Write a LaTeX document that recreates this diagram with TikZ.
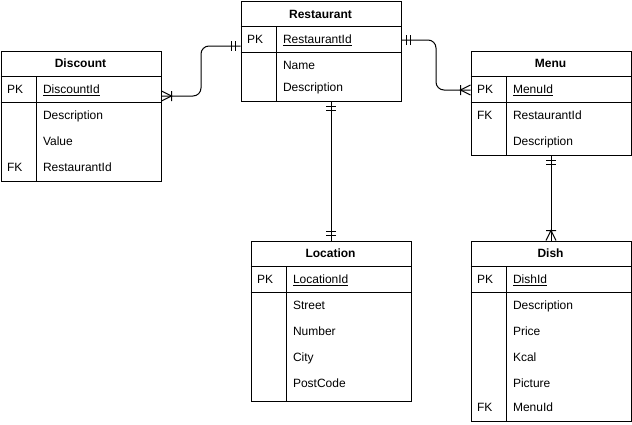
\documentclass[tikz,border=0pt]{standalone}
\usepackage{fontspec}
\setmainfont{Liberation Sans}
\usetikzlibrary{calc}

\tikzset{
  entity/.style = {draw, rectangle, anchor=north west, inner sep=0pt,
    minimum width=160pt},
  title/.style = {font=\fontsize{12}{14}\selectfont\bfseries, inner sep=0pt},
  field/.style = {font=\fontsize{12}{14}\selectfont, anchor=west, inner sep=0pt,
    text height=8.6pt, text depth=0pt},
  one/.pic = {\draw (-5,-5) -- (-5,5) (-9,-5) -- (-9,5);},
  many/.pic = {\draw (-10,-5) -- (-10,5) (0,-5) -- (-10,0) -- (0,5);}
}

\begin{document}
\begin{tikzpicture}[x=1pt, y=-1pt, line width=1pt]
  \useasboundingbox (0,0) rectangle (632,424);

  % Restaurant
  \node[entity, minimum height=100pt] (restaurant) at (240.5,0.5) {};
  \draw (240.5,26.5) -- (400.5,26.5) (240.5,52.5) -- (400.5,52.5)
        (276.5,26.5) -- (276.5,100.5);
  \node[title] (rest-title) at (320.5,14) {Restaurant};
  \node[field] (rest-pk) at (246.5,39.5) {PK};
  \node[field] (rest-id) at (282.5,39.5) {\underline{RestaurantId}};
  \node[field] (rest-name) at (282.5,65.5) {Name};
  \node[field] (rest-desc) at (282.5,87.5) {Description};

  % Discount
  \node[entity, minimum height=130pt] (discount) at (0.5,50.5) {};
  \draw (0.5,76.5) -- (160.5,76.5) (0.5,102.5) -- (160.5,102.5)
        (36.5,76.5) -- (36.5,180.5);
  \node[title] (dis-title) at (80.5,63.5) {Discount};
  \node[field] (dis-pk) at (6.5,89.5) {PK};
  \node[field] (dis-id) at (42.5,89.5) {\underline{DiscountId}};
  \node[field] (dis-desc) at (42.5,115.5) {Description};
  \node[field] (dis-value) at (42.5,141.5) {Value};
  \node[field] (dis-fk) at (6.5,167.5) {FK};
  \node[field] (dis-rest) at (42.5,167.5) {RestaurantId};

  % Menu
  \node[entity, minimum height=104pt] (menu) at (470.5,50.5) {};
  \draw (470.5,76.5) -- (630.5,76.5) (470.5,102.5) -- (630.5,102.5)
        (506.5,76.5) -- (506.5,154.5);
  \node[title] (menu-title) at (550.5,63.5) {Menu};
  \node[field] (menu-pk) at (476.5,89.5) {PK};
  \node[field] (menu-id) at (512.5,89.5) {\underline{MenuId}};
  \node[field] (menu-fk) at (476.5,115.5) {FK};
  \node[field] (menu-rest) at (512.5,115.5) {RestaurantId};
  \node[field] (menu-desc) at (512.5,141.5) {Description};

  % Location
  \node[entity, minimum height=160pt] (location) at (250.5,240.5) {};
  \draw (250.5,266.5) -- (410.5,266.5) (250.5,292.5) -- (410.5,292.5)
        (286.5,266.5) -- (286.5,400.5);
  \node[title] (loc-title) at (330.5,253.5) {Location};
  \node[field] (loc-pk) at (256.5,279.5) {PK};
  \node[field] (loc-id) at (292.5,279.5) {\underline{LocationId}};
  \node[field] (loc-street) at (292.5,305.5) {Street};
  \node[field] (loc-number) at (292.5,331.5) {Number};
  \node[field] (loc-city) at (292.5,357.5) {City};
  \node[field] (loc-code) at (292.5,383.5) {PostCode};

  % Dish
  \node[entity, minimum height=180pt] (dish) at (470.5,240.5) {};
  \draw (470.5,266.5) -- (630.5,266.5) (470.5,292.5) -- (630.5,292.5)
        (506.5,266.5) -- (506.5,420.5);
  \node[title] (dish-title) at (550.5,253.5) {Dish};
  \node[field] (dish-pk) at (476.5,279.5) {PK};
  \node[field] (dish-id) at (512.5,279.5) {\underline{DishId}};
  \node[field] (dish-desc) at (512.5,305.5) {Description};
  \node[field] (dish-price) at (512.5,331.5) {Price};
  \node[field] (dish-kcal) at (512.5,357.5) {Kcal};
  \node[field] (dish-pic) at (512.5,383.5) {Picture};
  \node[field] (dish-fk) at (476.5,407.5) {FK};
  \node[field] (dish-menu) at (512.5,407.5) {MenuId};

  % relations
  \coordinate (rd-a) at ([yshift=5pt]restaurant.west);
  \coordinate (rd-b) at ([yshift=20pt]discount.east);
  \coordinate (rm-a) at ([yshift=11pt]restaurant.east);
  \coordinate (rm-b) at ([yshift=13pt]menu.west);
  \coordinate (rl-a) at ([xshift=10pt]restaurant.south);
  \coordinate (md-a) at (menu.south);

  \draw[rounded corners=8pt] (rd-a) -| ($(rd-a)!0.5!(rd-b)$) |- (rd-b);
  \draw[rounded corners=8pt] (rm-a) -| ($(rm-a)!0.5!(rm-b)$) |- (rm-b);
  \draw (rl-a) -- (rl-a |- location.north);
  \draw (md-a) -- (dish.north);

  \pic at (rd-a) {one};
  \pic[rotate=180] at (rd-b) {many};
  \pic[rotate=180] at (rm-a) {one};
  \pic at (rm-b) {many};
  \pic[rotate=90] at (rl-a) {one};
  \pic[rotate=-90] at (location.north) {one};
  \pic[rotate=90] at (md-a) {one};
  \pic[rotate=-90] at (dish.north) {many};
\end{tikzpicture}
\end{document}
